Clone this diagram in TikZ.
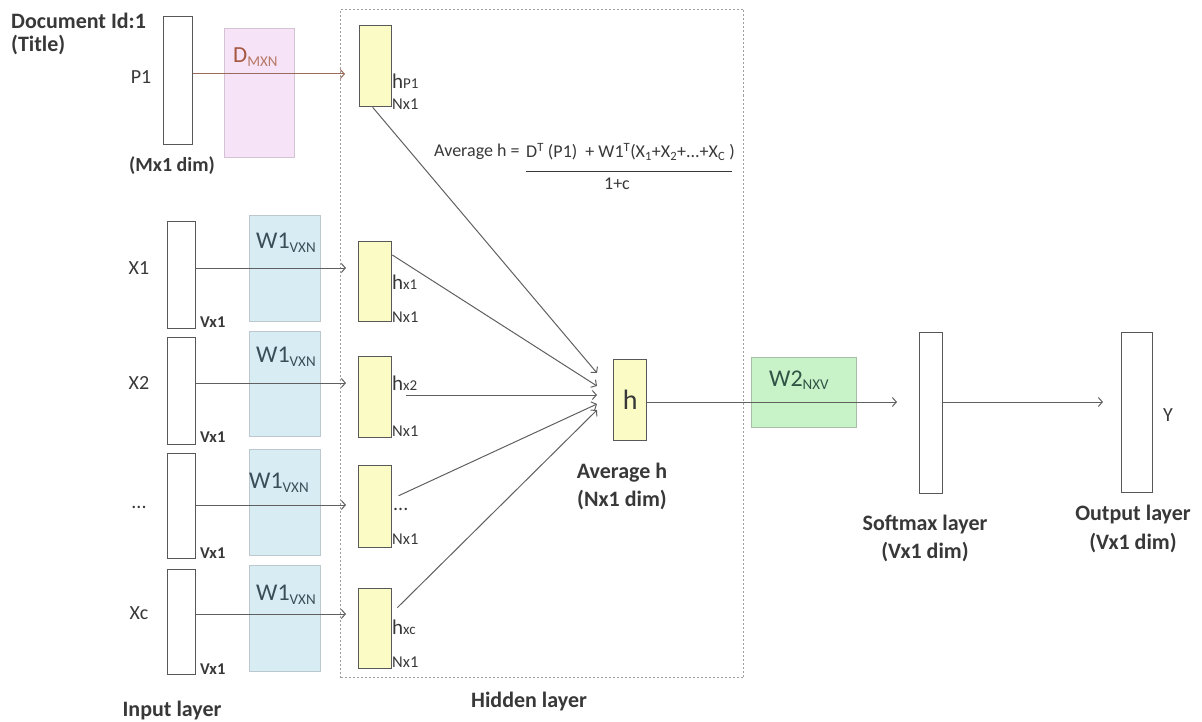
\documentclass[tikz,border=0pt]{standalone}
\usepackage{fontspec}
\setmainfont{Carlito}
\usetikzlibrary{arrows.meta,calc}

\definecolor{edge}{HTML}{585858}
\definecolor{ink}{HTML}{383838}
\definecolor{wire}{HTML}{606060}
\definecolor{hfill}{HTML}{FBFBC6}
\definecolor{bfill}{HTML}{D8ECF4}
\definecolor{bedge}{HTML}{BCC8CE}
\definecolor{gfill}{HTML}{C8F2C8}
\definecolor{gedge}{HTML}{A8BEA8}
\definecolor{pfill}{HTML}{F7E3F7}
\definecolor{pedge}{HTML}{D2C4D2}
\definecolor{dred}{HTML}{A5563F}
\definecolor{pwire}{HTML}{9A6A5C}
\definecolor{wink}{HTML}{3B4E58}
\definecolor{gink}{HTML}{2F5446}

\newcommand\fsBold{\fontsize{22}{26}\selectfont\bfseries}
\newcommand\fsDoc{\fontsize{22}{26}\selectfont\bfseries}
\newcommand\fsDim{\fontsize{20}{24}\selectfont\bfseries}
\newcommand\fsName{\fontsize{20}{24}\selectfont}
\newcommand\fsSmall{\fontsize{16.5}{19}\selectfont}
\newcommand\fsSub{\fontsize{15}{18}\selectfont}
\newcommand\fsForm{\fontsize{18}{21}\selectfont}
\newcommand\hsub[1]{{\fontsize{21}{24}\selectfont h}{\fsSub #1}}
\newcommand\wsub[2]{{\fontsize{24}{28}\selectfont #1}\raisebox{-3.5pt}{\fsSub #2}}

\begin{document}
\begin{tikzpicture}[x=1pt,y=-1pt,
  vec/.style={draw=edge, line width=1.3pt, fill=white, inner sep=0, anchor=north west},
  hvec/.style={vec, fill=hfill},
  wmat/.style={draw=bedge, line width=1pt, fill=bfill, inner sep=0, anchor=north west},
  pmat/.style={wmat, draw=pedge, fill=pfill},
  gmat/.style={wmat, draw=gedge, fill=gfill},
  frame/.style={draw=gray!75, dash pattern=on 2pt off 2pt, line width=1pt, inner sep=0, anchor=north west},
  arr/.style={draw=wire, line width=1pt, -{Straight Barb[length=4pt,width=9pt]}},
  parr/.style={arr, draw=pwire},
  lbl/.style={inner sep=0, text=ink},
  blbl/.style={lbl, font=\fsBold},
  vname/.style={lbl, font=\fsName},
  dimv/.style={lbl, font=\fsSmall\bfseries, anchor=west},
  dimn/.style={lbl, font=\fsSmall, anchor=west},
  hl/.style={lbl, anchor=west}
]
\useasboundingbox (0,0) rectangle (1202,722);

% hidden layer frame
\node[frame, minimum width=403, minimum height=668] (hid) at (340,9) {};

% input vectors
\node[vec, minimum width=29, minimum height=128] (p1) at (163,16) {};
\node[vec, minimum width=28, minimum height=107] (x1) at (167,221) {};
\node[vec, minimum width=28, minimum height=107] (x2) at (167,337) {};
\node[vec, minimum width=28, minimum height=105] (x3) at (167,453) {};
\node[vec, minimum width=28, minimum height=105] (xc) at (167,569) {};

% projection matrices
\node[pmat, minimum width=70, minimum height=129] (D) at (224,28) {};
\node[wmat, minimum width=71, minimum height=106] (w1a) at (249,215) {};
\node[wmat, minimum width=71, minimum height=105] (w1b) at (249,331) {};
\node[wmat, minimum width=71, minimum height=106] (w1c) at (249,449) {};
\node[wmat, minimum width=71, minimum height=106] (w1d) at (249,565) {};

% hidden vectors
\node[hvec, minimum width=32, minimum height=81] (hp1) at (359,25) {};
\node[hvec, minimum width=33, minimum height=80] (hx1) at (358,241) {};
\node[hvec, minimum width=33, minimum height=81] (hx2) at (358,356) {};
\node[hvec, minimum width=33, minimum height=82] (hx3) at (358,465) {};
\node[hvec, minimum width=33, minimum height=80] (hxc) at (358,588) {};

% averaged hidden vector, output weights, softmax and output
\node[hvec, minimum width=33, minimum height=81, font=\fontsize{28}{30}\selectfont, text=ink] (h) at (613,359) {h};
\node[gmat, minimum width=105, minimum height=70] (W2) at (751,357) {};
\node[vec, minimum width=23, minimum height=161] (soft) at (919,332) {};
\node[vec, minimum width=31, minimum height=160] (out) at (1121,332) {};

% arrow end points
\coordinate (tp1) at (345,74);
\coordinate (tx1) at (346,268);
\coordinate (tx2) at (346,383);
\coordinate (tx3) at (346,505);
\coordinate (txc) at (346,614);
\coordinate (a1) at (597,373);
\coordinate (a2) at (597,386);
\coordinate (a3) at (597,395);
\coordinate (a4) at (597,404);
\coordinate (a5) at (597,410);
\coordinate (ts) at (897,402);
\coordinate (to) at (1103,402);

% projections into the hidden layer
\draw[parr] (p1.east |- tp1) -- (tp1);
\draw[arr] (x1.east |- tx1) -- (tx1);
\draw[arr] (x2.east |- tx2) -- (tx2);
\draw[arr] (x3.east |- tx3) -- (tx3);
\draw[arr] (xc.east |- txc) -- (txc);

% averaging
\draw[arr] ([xshift=-3]hp1.south) -- (a1);
\draw[arr] ([yshift=-14]hx1.north east) -- (a2);
\draw[arr, shorten <=14pt] (hx2.east |- a3) -- (a3);
\draw[arr, shorten <=7pt] ([yshift=8]hx3.east) -- (a4);
\draw[arr, shorten <=7pt] ([yshift=16]hxc.east) -- (a5);

% output side
\draw[arr] (h.east |- ts) -- (ts);
\draw[arr] (soft.east |- to) -- (to);

% labels: document vector
\node[lbl, font=\fsDoc, anchor=west] (docid) at (11,21) {Document Id:1};
\node[lbl, font=\fsDoc, anchor=west] (title) at (11,45) {(Title)};
\node[vname] (lp1) at (141,77) {P1};
\node[lbl, font=\fsDim] (mdim) at (172,166) {(Mx1 dim)};
\node[hl] (lD) at (233,57) {{\fontsize{23}{26}\selectfont\color{dred}D}\raisebox{-3.5pt}{\fsSub\color{dred!80}MXN}};

% labels: word vectors
\node[vname] (lx1) at (139,268) {X1};
\node[vname] (lx2) at (139,383) {X2};
\node[vname] (lx3) at (139,507) {...};
\node[vname] (lxc) at (139,613) {Xc};
\node[dimv] (v1) at (200,322) {Vx1};
\node[dimv] (v2) at (200,437) {Vx1};
\node[dimv] (v3) at (200,553) {Vx1};
\node[dimv] (v4) at (200,669) {Vx1};
\node[hl, text=wink] (lw1a) at (256,243) {\wsub{W1}{VXN}};
\node[hl, text=wink] (lw1b) at (256,357) {\wsub{W1}{VXN}};
\node[hl, text=wink] (lw1c) at (249,483) {\wsub{W1}{VXN}};
\node[hl, text=wink] (lw1d) at (256,595) {\wsub{W1}{VXN}};

% labels: hidden vectors
\node[hl] (lhp1) at (392,81) {\hsub{P1}};
\node[dimn] (np1) at (392,104) {Nx1};
\node[hl] (lhx1) at (392,282) {\hsub{x1}};
\node[dimn] (nx1) at (392,317) {Nx1};
\node[hl] (lhx2) at (392,383) {\hsub{x2}};
\node[dimn] (nx2) at (392,431) {Nx1};
\node[hl, font=\fsName] (lhx3) at (393,509) {...};
\node[dimn] (nx3) at (392,539) {Nx1};
\node[hl] (lhxc) at (392,627) {\hsub{xc}};
\node[dimn] (nxc) at (392,662) {Nx1};

% averaging formula
\node[lbl, font=\fsForm, anchor=west] (favg) at (434,152) {Average h =};
\node[lbl, font=\fsForm, anchor=west] (fnum) at (526,152) {D\textsuperscript{T} (P1)\ \ + W1\textsuperscript{T}(X\textsubscript{1}+X\textsubscript{2}+...+X\textsubscript{C}\ )};
\draw[ink, line width=1pt] (526,172) -- (732,172);
\node[lbl, font=\fsForm] (fden) at (617,184) {1+c};

% labels: output side
\node[blbl] (avgh) at (622,473) {Average h};
\node[blbl] (ndim) at (622,500) {(Nx1 dim)};
\node[hl, text=gink] (lw2) at (769,380) {\wsub{W2}{NXV}};
\node[blbl] (sml) at (925,525) {Softmax layer};
\node[blbl] (smd) at (925,552) {(Vx1 dim)};
\node[blbl] (oul) at (1133,515) {Output layer};
\node[blbl] (oud) at (1133,543) {(Vx1 dim)};
\node[vname] (ly) at (1168,415) {Y};

% layer captions
\node[blbl] (inl) at (172,711) {Input layer};
\node[blbl] (hdl) at (529,702) {Hidden layer};
\end{tikzpicture}
\end{document}
